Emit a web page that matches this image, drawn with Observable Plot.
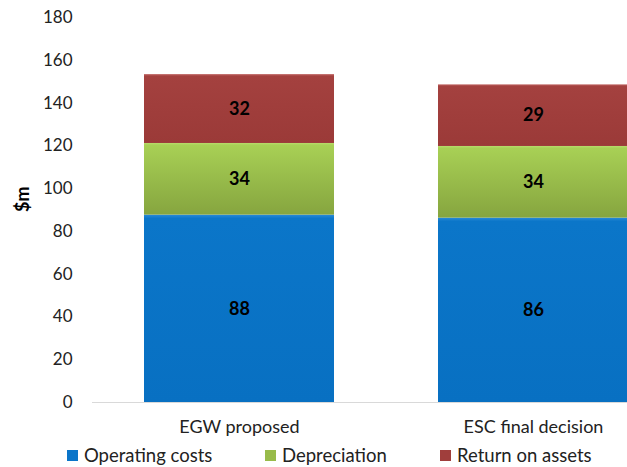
<!DOCTYPE html>
<html>
<head>
<meta charset="utf-8">
<script src="https://cdn.jsdelivr.net/npm/d3@7"></script>
<script src="https://cdn.jsdelivr.net/npm/@observablehq/plot@0.6"></script>
<style>
  html, body { margin: 0; padding: 0; background: #fff; }
  #wrap { position: relative; width: 627px; height: 467px; font-family: Lato, "Open Sans", sans-serif; }
  #legend { position: absolute; top: 444px; left: 0; width: 627px; height: 22px; font-size: 18.5px; color: #222; }
  .item { position: absolute; top: 0; display: flex; align-items: center; height: 22px; }
  .sw { width: 11px; height: 11px; margin-right: 6px; }
</style>
</head>
<body>
<div id="wrap">
  <div id="chart"></div>
  <div id="legend"></div>
</div>
<script>
const categories = ["EGW proposed", "ESC final decision"];
const seriesNames = ["Operating costs", "Depreciation", "Return on assets"];
const operatingCosts = [87.6, 86.2];
const depreciation = [33.5, 33.5];
const returnOnAssets = [32.2, 28.8];
const yTicks = [0, 20, 40, 60, 80, 100, 120, 140, 160, 180];
const seriesColors = ["#0a75c9", "#98bb4a", "#a03e3c"];
const seriesFills = ["url(#gBlue)", "url(#gGreen)", "url(#gRed)"];

const seriesValues = [operatingCosts, depreciation, returnOnAssets];
const data = [];
seriesNames.forEach((s, si) => {
  categories.forEach((c, ci) => {
    data.push({category: c, series: s, value: seriesValues[si][ci]});
  });
});

const chart = Plot.plot({
  width: 627,
  height: 444,
  marginLeft: 92,
  marginRight: -53,
  marginTop: 17,
  marginBottom: 42,
  style: {fontFamily: "Lato, 'Open Sans', sans-serif", background: "#fff"},
  x: {domain: categories, paddingInner: 0.354, paddingOuter: 0.175, align: 0.5, label: null},
  y: {domain: [0, 180], label: null},
  color: {domain: seriesNames, range: seriesFills},
  marks: [
    Plot.barY(data, {x: "category", y: "value", fill: "series", order: seriesNames, inset: 0}),
    Plot.ruleY([0], {stroke: "#d9d9d9", strokeWidth: 1}),
    Plot.axisY({ticks: yTicks, tickSize: 0, tickPadding: 20, fontSize: 17, fill: "#222", stroke: "#d9d9d9", line: true, label: null}),
    Plot.axisX({tickSize: 0, tickPadding: 18, fontSize: 18, fill: "#222", label: null}),
    Plot.text(data, Plot.stackY({x: "category", y: "value", z: "series", order: seriesNames, text: d => String(Math.round(d.value)), fontSize: 18, fontWeight: "bold", fill: "#000"})),
    Plot.text(["$m"], {frameAnchor: "left", dx: -69, dy: 2, rotate: -90, fontSize: 18, fontWeight: "bold", fill: "#000"})
  ]
});

// gradient definitions for the Excel-like bar shading
const ns = "http://www.w3.org/2000/svg";
const defs = document.createElementNS(ns, "defs");
const grads = [
  ["gBlue", [["0", "#2a8ad6"], ["0.02", "#0b76c9"], ["1", "#0870c2"]]],
  ["gGreen", [["0", "#b9dc6c"], ["0.03", "#a8d055"], ["1", "#86a53f"]]],
  ["gRed", [["0", "#c06563"], ["0.03", "#a4413f"], ["1", "#9b3a38"]]]
];
grads.forEach(([id, stops]) => {
  const g = document.createElementNS(ns, "linearGradient");
  g.setAttribute("id", id);
  g.setAttribute("x1", "0"); g.setAttribute("y1", "0");
  g.setAttribute("x2", "0"); g.setAttribute("y2", "1");
  stops.forEach(([o, c]) => {
    const s = document.createElementNS(ns, "stop");
    s.setAttribute("offset", o);
    s.setAttribute("stop-color", c);
    g.appendChild(s);
  });
  defs.appendChild(g);
});
chart.insertBefore(defs, chart.firstChild);
chart.style.overflow = "hidden";
document.getElementById("chart").appendChild(chart);

// legend
const legendPos = [67, 265, 440];
const legend = document.getElementById("legend");
seriesNames.forEach((s, i) => {
  const item = document.createElement("div");
  item.className = "item";
  item.style.left = legendPos[i] + "px";
  const sw = document.createElement("div");
  sw.className = "sw";
  sw.style.background = seriesColors[i];
  const t = document.createElement("span");
  t.textContent = s;
  item.appendChild(sw);
  item.appendChild(t);
  legend.appendChild(item);
});
</script>
</body>
</html>
